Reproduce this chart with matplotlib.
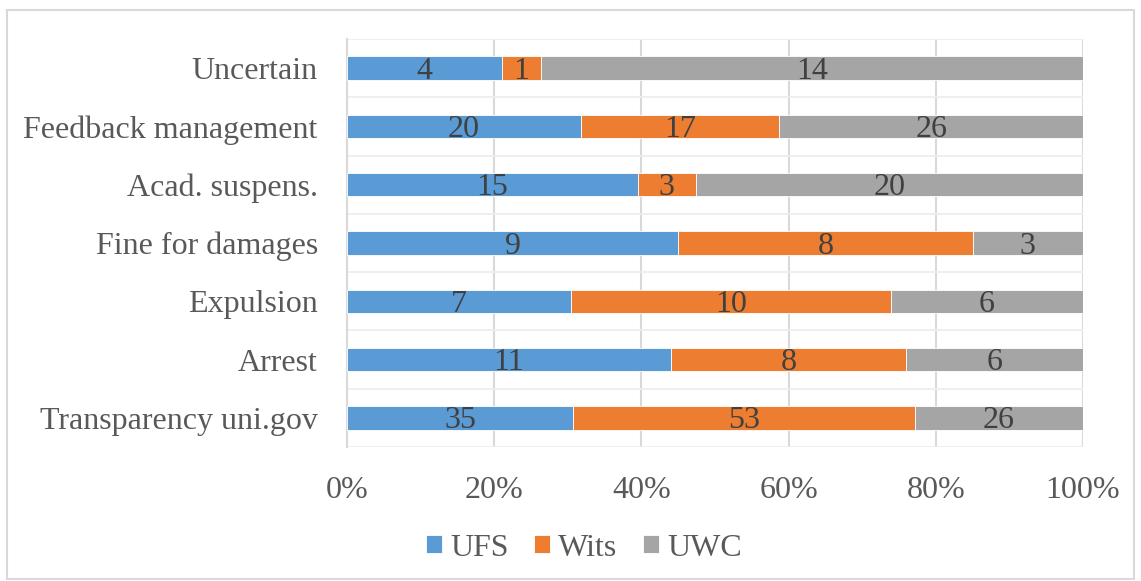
import matplotlib.pyplot as plt
import matplotlib.transforms as mtransforms
import numpy as np
from matplotlib.patches import Rectangle

# categories listed bottom to top
categories = ["Transparency uni.gov", "Arrest", "Expulsion", "Fine for damages",
              "Acad. suspens.", "Feedback management", "Uncertain"]
ufs = [35, 11, 7, 9, 15, 20, 4]
wits = [53, 8, 10, 8, 3, 17, 1]
uwc = [26, 6, 6, 3, 20, 26, 14]
series_names = ["UFS", "Wits", "UWC"]
colors = ["#5B9BD5", "#ED7D31", "#A5A5A5"]
xticks = [0, 20, 40, 60, 80, 100]

plt.rcParams['font.family'] = ['Liberation Serif', 'DejaVu Serif']

counts = np.array([ufs, wits, uwc], dtype=float)
shares = counts / counts.sum(axis=0) * 100

fig = plt.figure(figsize=(11.41, 5.81), dpi=100)
ax = fig.add_axes([347 / 1141, 1 - 447 / 581, 736 / 1141, 408 / 581])

# shift data labels down a little, like the original
down = mtransforms.offset_copy(ax.transData, fig=fig, x=0, y=-3, units="dots")

y = np.arange(len(categories))
left = np.zeros(len(categories))
for i, name in enumerate(series_names):
    ax.barh(y, shares[i], left=left, height=0.4, color=colors[i],
            edgecolor="white", linewidth=0.6, label=name, zorder=3)
    for yy, l, w, c in zip(y, left, shares[i], counts[i]):
        ax.text(l + w / 2, yy, str(int(c)), transform=down, ha="center", va="center",
                fontsize=23, color="#404040", zorder=4)
    left += shares[i]

ax.set_xlim(0, 100)
ax.set_ylim(-0.5, len(categories) - 0.5)
ax.set_xticks(xticks)
ax.set_xticklabels([f"{t}%" for t in xticks])
ax.set_yticks(y)
ax.set_yticklabels(categories)
ax.set_yticks(np.arange(-0.5, len(categories), 1), minor=True)
ax.tick_params(axis="both", which="both", length=0, labelsize=23, labelcolor="#595959")
ax.tick_params(axis="x", pad=21)
ax.tick_params(axis="y", pad=21)
ax.grid(axis="x", which="major", color="#D9D9D9", linewidth=1.5, zorder=0)
ax.grid(axis="y", which="minor", color="#EEEEEE", linewidth=1.3, zorder=0)
for s in ax.spines.values():
    s.set_visible(False)
ax.spines["left"].set_visible(True)
ax.spines["left"].set_color("#D9D9D9")
ax.spines["left"].set_linewidth(1.5)

leg = fig.legend(loc="center", bbox_to_anchor=(584 / 1141, 1 - 548 / 581), ncol=3,
                 frameon=False, fontsize=23, handlelength=0.5, handleheight=0.5,
                 handletextpad=0.25, columnspacing=0.8)
for t in leg.get_texts():
    t.set_color("#595959")

fig.patches.append(Rectangle((7 / 1141, 2 / 581), 1127 / 1141, 569 / 581,
                             transform=fig.transFigure, fill=False,
                             edgecolor="#D9D9D9", linewidth=1.5))

fig.savefig("out.png", dpi=100)
